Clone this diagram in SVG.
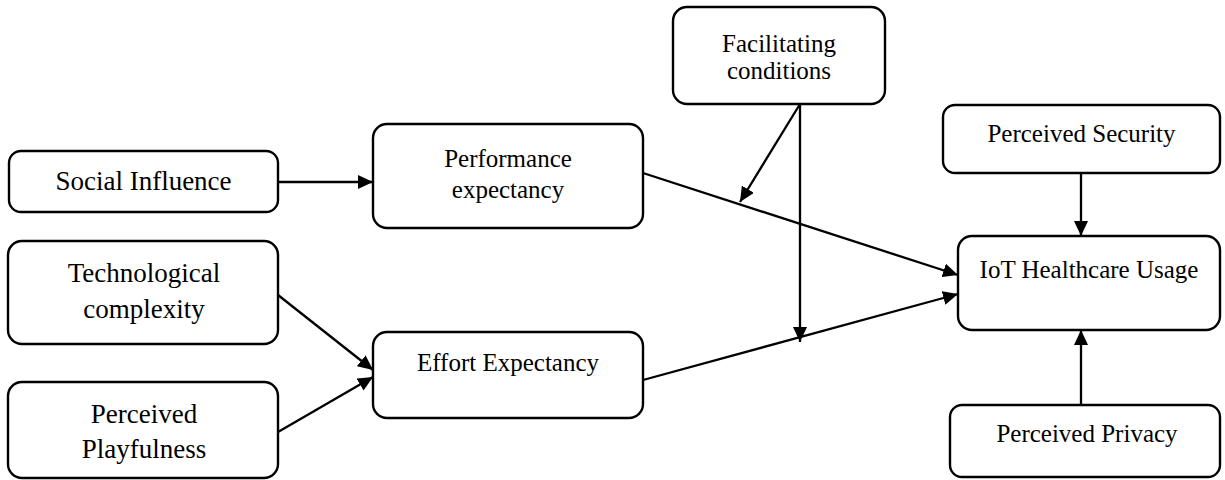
<svg xmlns="http://www.w3.org/2000/svg" width="1225" height="480" viewBox="0 0 1225 480">
<style>
.box{fill:#fff;stroke:#000;stroke-width:2.4}
.t{font-family:"Liberation Serif","Times New Roman",serif;font-size:25px;fill:#000;text-anchor:middle}
.tl{font-size:27px}
.c{stroke:#000;stroke-width:2.3;fill:none;marker-end:url(#ah)}
</style>
<defs>
<marker id="ah" viewBox="0 0 15 14" refX="15" refY="7" markerWidth="15" markerHeight="14" markerUnits="userSpaceOnUse" orient="auto">
<path d="M0,0 L15,7 L0,14 z" fill="#000"/>
</marker>
</defs>
<rect width="1225" height="480" fill="#fff"/>
<g id="connectors">
<line class="c" x1="278" y1="182" x2="373" y2="182"/>
<line class="c" x1="800" y1="104" x2="740" y2="202"/>
<line class="c" x1="800" y1="104" x2="800" y2="342"/>
<line class="c" x1="643" y1="173" x2="958" y2="275"/>
<line class="c" x1="643" y1="380" x2="958" y2="294"/>
<line class="c" x1="278" y1="295" x2="373" y2="370"/>
<line class="c" x1="278" y1="432" x2="373" y2="377"/>
<line class="c" x1="1081" y1="173" x2="1081" y2="236"/>
<line class="c" x1="1081" y1="405" x2="1081" y2="330"/>
</g>
<g id="social-influence">
<rect class="box" x="9" y="151" width="269" height="61" rx="12"/>
<text class="t tl" x="143.5" y="190">Social Influence</text>
</g>
<g id="performance-expectancy">
<rect class="box" x="373" y="124" width="270" height="104" rx="14"/>
<text class="t" x="508" y="167">Performance</text>
<text class="t" x="508" y="198">expectancy</text>
</g>
<g id="facilitating-conditions">
<rect class="box" x="673" y="7" width="212" height="97" rx="14"/>
<text class="t" x="779" y="52">Facilitating</text>
<text class="t" x="779" y="79">conditions</text>
</g>
<g id="perceived-security">
<rect class="box" x="943" y="105" width="277" height="68" rx="12"/>
<text class="t" x="1081.5" y="142">Perceived Security</text>
</g>
<g id="iot-healthcare-usage">
<rect class="box" x="958" y="236" width="262" height="94" rx="14"/>
<text class="t" x="1089" y="278">IoT Healthcare Usage</text>
</g>
<g id="perceived-privacy">
<rect class="box" x="950" y="405" width="270" height="72" rx="12"/>
<text class="t" x="1087" y="442">Perceived Privacy</text>
</g>
<g id="technological-complexity">
<rect class="box" x="8" y="241" width="270" height="103" rx="14"/>
<text class="t tl" x="144" y="282">Technological</text>
<text class="t tl" x="144" y="318">complexity</text>
</g>
<g id="perceived-playfulness">
<rect class="box" x="8" y="382" width="270" height="96" rx="14"/>
<text class="t tl" x="144" y="423">Perceived</text>
<text class="t tl" x="144" y="458">Playfulness</text>
</g>
<g id="effort-expectancy">
<rect class="box" x="373" y="332" width="270" height="86" rx="14"/>
<text class="t" x="508" y="371">Effort Expectancy</text>
</g>
</svg>
